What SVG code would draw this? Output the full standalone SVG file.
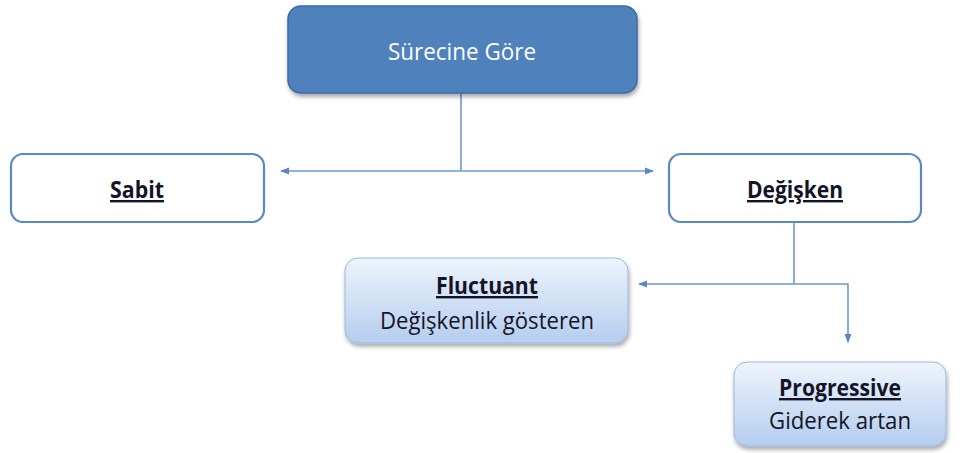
<svg xmlns="http://www.w3.org/2000/svg" width="969" height="453" viewBox="0 0 969 453">
  <defs>
    <linearGradient id="lightFill" x1="0" y1="0" x2="0" y2="1">
      <stop offset="0" stop-color="#eef4fc"/>
      <stop offset="1" stop-color="#b4cdef"/>
    </linearGradient>
    <filter id="shadow" x="-10%" y="-10%" width="120%" height="130%">
      <feDropShadow dx="1" dy="3" stdDeviation="2" flood-color="#000" flood-opacity="0.35"/>
    </filter>
    <marker id="arrow" viewBox="0 0 10 10" refX="9" refY="5" markerWidth="9" markerHeight="9" markerUnits="userSpaceOnUse" orient="auto">
      <path d="M0,1 L10,5 L0,9 z" fill="#5b87c5"/>
    </marker>
  </defs>
  <style>
    text { font-family: "Open Sans", "Noto Sans", "Liberation Sans", sans-serif; text-anchor: middle; }
    .title { fill: #ffffff; font-size: 23px; }
    .head { fill: #141428; font-size: 24px; font-weight: bold; text-decoration: underline; }
    .sub { fill: #141428; font-size: 24px; }
    .outline { fill: #ffffff; stroke: #5b87c5; stroke-width: 2.2; }
    .soft { fill: url(#lightFill); stroke: #9bb7df; stroke-width: 1; filter: url(#shadow); }
    .link { fill: none; stroke: #6f98cf; stroke-width: 1.6; }
  </style>

  <g id="connectors">
    <path class="link" d="M461,93 V171"/>
    <path class="link" d="M461,171 H281" marker-end="url(#arrow)"/>
    <path class="link" d="M461,171 H653" marker-end="url(#arrow)"/>
    <path class="link" d="M794,222 V284"/>
    <path class="link" d="M794,284 H639" marker-end="url(#arrow)"/>
    <path class="link" d="M794,284 H848 V342" marker-end="url(#arrow)"/>
  </g>

  <g id="surecine-gore">
    <rect x="288" y="6" width="349" height="87" rx="13" fill="#4f81bd" stroke="#3b6aa5" stroke-width="1.5" filter="url(#shadow)"/>
    <text class="title" x="462" y="60" textLength="148" lengthAdjust="spacingAndGlyphs">Sürecine Göre</text>
  </g>

  <g id="sabit">
    <rect class="outline" x="11" y="154" width="253" height="68" rx="12"/>
    <text class="head" x="137" y="198" textLength="54" lengthAdjust="spacingAndGlyphs">Sabit</text>
  </g>

  <g id="degisken">
    <rect class="outline" x="669" y="154" width="252" height="68" rx="12"/>
    <text class="head" x="795" y="198" textLength="96" lengthAdjust="spacingAndGlyphs">Değişken</text>
  </g>

  <g id="fluctuant">
    <rect class="soft" x="345" y="258" width="283" height="85" rx="13"/>
    <text class="head" x="487" y="294" textLength="102" lengthAdjust="spacingAndGlyphs">Fluctuant</text>
    <text class="sub" x="487" y="329" textLength="214" lengthAdjust="spacingAndGlyphs">Değişkenlik gösteren</text>
  </g>

  <g id="progressive">
    <rect class="soft" x="734" y="362" width="212" height="84" rx="13"/>
    <text class="head" x="840" y="396" textLength="122" lengthAdjust="spacingAndGlyphs">Progressive</text>
    <text class="sub" x="840" y="429" textLength="142" lengthAdjust="spacingAndGlyphs">Giderek artan</text>
  </g>
</svg>
